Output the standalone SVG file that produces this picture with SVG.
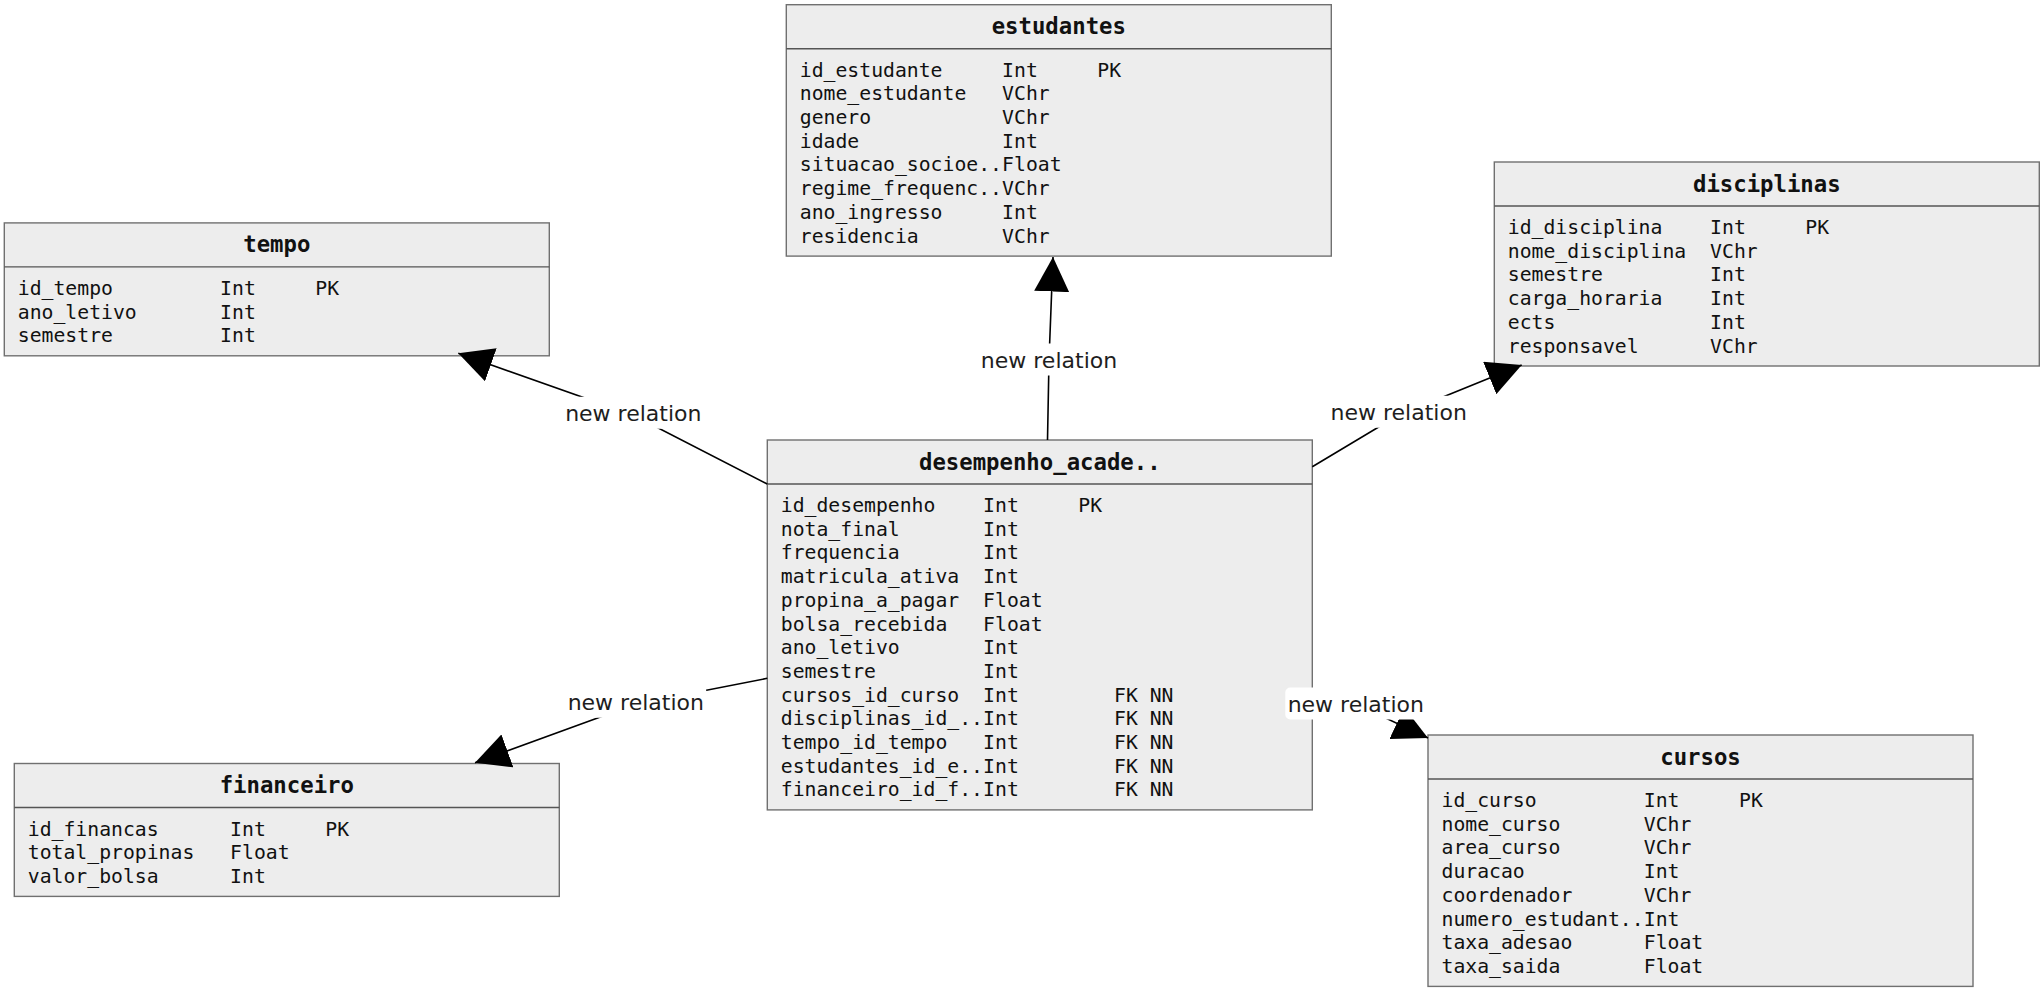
<svg xmlns="http://www.w3.org/2000/svg" width="2043" height="990" viewBox="0 0 2043 990">
  <style>
    .box { fill: #ededed; stroke: #707070; stroke-width: 1.4; }
    .sep { stroke: #555555; stroke-width: 1.4; }
    .title { font-family: "DejaVu Sans Mono", "Liberation Mono", monospace; font-weight: bold; font-size: 22.3px; fill: #111111; text-anchor: middle; }
    .row { font-family: "DejaVu Sans Mono", "Liberation Mono", monospace; font-size: 19.75px; fill: #111111; }
    .edge { fill: none; stroke: #000000; stroke-width: 1.6; marker-end: url(#head); }
    .lblbg { fill: #ffffff; }
    .lbl { font-family: "DejaVu Sans", "Liberation Sans", sans-serif; font-size: 22px; fill: #1e1e1e; text-anchor: middle; }
  </style>
  <defs>
    <marker id="head" markerUnits="userSpaceOnUse" viewBox="0 0 35 35" markerWidth="35" markerHeight="35" refX="34.5" refY="17.5" orient="auto">
      <path d="M0,0 L34.5,17.5 L0,35 z" fill="#000000"/>
    </marker>
  </defs>
  <rect width="2043" height="990" fill="#ffffff"/>

  <!-- estudantes -->
  <g id="tbl-estudantes" transform="translate(786.3,4.7)">
    <rect class="box" width="545" height="251.4"/>
    <line class="sep" x1="0" y1="44" x2="545" y2="44"/>
    <text class="title" x="272.5" y="29.5">estudantes</text>
    <text class="row" y="72"><tspan x="13.5">id_estudante</tspan><tspan x="215.8">Int</tspan><tspan x="311">PK</tspan></text>
    <text class="row" y="95.7"><tspan x="13.5">nome_estudante</tspan><tspan x="215.8">VChr</tspan></text>
    <text class="row" y="119.4"><tspan x="13.5">genero</tspan><tspan x="215.8">VChr</tspan></text>
    <text class="row" y="143.1"><tspan x="13.5">idade</tspan><tspan x="215.8">Int</tspan></text>
    <text class="row" y="166.8"><tspan x="13.5">situacao_socioe..</tspan><tspan x="215.8">Float</tspan></text>
    <text class="row" y="190.5"><tspan x="13.5">regime_frequenc..</tspan><tspan x="215.8">VChr</tspan></text>
    <text class="row" y="214.2"><tspan x="13.5">ano_ingresso</tspan><tspan x="215.8">Int</tspan></text>
    <text class="row" y="237.9"><tspan x="13.5">residencia</tspan><tspan x="215.8">VChr</tspan></text>
  </g>

  <!-- tempo -->
  <g id="tbl-tempo" transform="translate(4.3,222.9)">
    <rect class="box" width="545" height="132.9"/>
    <line class="sep" x1="0" y1="44" x2="545" y2="44"/>
    <text class="title" x="272.5" y="29.5">tempo</text>
    <text class="row" y="72"><tspan x="13.5">id_tempo</tspan><tspan x="215.8">Int</tspan><tspan x="311">PK</tspan></text>
    <text class="row" y="95.7"><tspan x="13.5">ano_letivo</tspan><tspan x="215.8">Int</tspan></text>
    <text class="row" y="119.4"><tspan x="13.5">semestre</tspan><tspan x="215.8">Int</tspan></text>
  </g>

  <!-- disciplinas -->
  <g id="tbl-disciplinas" transform="translate(1494.3,162)">
    <rect class="box" width="545" height="204"/>
    <line class="sep" x1="0" y1="44" x2="545" y2="44"/>
    <text class="title" x="272.5" y="29.5">disciplinas</text>
    <text class="row" y="72"><tspan x="13.5">id_disciplina</tspan><tspan x="215.8">Int</tspan><tspan x="311">PK</tspan></text>
    <text class="row" y="95.7"><tspan x="13.5">nome_disciplina</tspan><tspan x="215.8">VChr</tspan></text>
    <text class="row" y="119.4"><tspan x="13.5">semestre</tspan><tspan x="215.8">Int</tspan></text>
    <text class="row" y="143.1"><tspan x="13.5">carga_horaria</tspan><tspan x="215.8">Int</tspan></text>
    <text class="row" y="166.8"><tspan x="13.5">ects</tspan><tspan x="215.8">Int</tspan></text>
    <text class="row" y="190.5"><tspan x="13.5">responsavel</tspan><tspan x="215.8">VChr</tspan></text>
  </g>

  <!-- desempenho_academico (fact table) -->
  <g id="tbl-desempenho" transform="translate(767.3,440)">
    <rect class="box" width="545" height="369.9"/>
    <line class="sep" x1="0" y1="44" x2="545" y2="44"/>
    <text class="title" x="272.5" y="29.5">desempenho_acade..</text>
    <text class="row" y="72"><tspan x="13.5">id_desempenho</tspan><tspan x="215.8">Int</tspan><tspan x="311">PK</tspan></text>
    <text class="row" y="95.7"><tspan x="13.5">nota_final</tspan><tspan x="215.8">Int</tspan></text>
    <text class="row" y="119.4"><tspan x="13.5">frequencia</tspan><tspan x="215.8">Int</tspan></text>
    <text class="row" y="143.1"><tspan x="13.5">matricula_ativa</tspan><tspan x="215.8">Int</tspan></text>
    <text class="row" y="166.8"><tspan x="13.5">propina_a_pagar</tspan><tspan x="215.8">Float</tspan></text>
    <text class="row" y="190.5"><tspan x="13.5">bolsa_recebida</tspan><tspan x="215.8">Float</tspan></text>
    <text class="row" y="214.2"><tspan x="13.5">ano_letivo</tspan><tspan x="215.8">Int</tspan></text>
    <text class="row" y="237.9"><tspan x="13.5">semestre</tspan><tspan x="215.8">Int</tspan></text>
    <text class="row" y="261.6"><tspan x="13.5">cursos_id_curso</tspan><tspan x="215.8">Int</tspan><tspan x="346.7">FK NN</tspan></text>
    <text class="row" y="285.3"><tspan x="13.5">disciplinas_id_..</tspan><tspan x="215.8">Int</tspan><tspan x="346.7">FK NN</tspan></text>
    <text class="row" y="309"><tspan x="13.5">tempo_id_tempo</tspan><tspan x="215.8">Int</tspan><tspan x="346.7">FK NN</tspan></text>
    <text class="row" y="332.7"><tspan x="13.5">estudantes_id_e..</tspan><tspan x="215.8">Int</tspan><tspan x="346.7">FK NN</tspan></text>
    <text class="row" y="356.4"><tspan x="13.5">financeiro_id_f..</tspan><tspan x="215.8">Int</tspan><tspan x="346.7">FK NN</tspan></text>
  </g>

  <!-- financeiro -->
  <g id="tbl-financeiro" transform="translate(14.3,763.5)">
    <rect class="box" width="545" height="132.9"/>
    <line class="sep" x1="0" y1="44" x2="545" y2="44"/>
    <text class="title" x="272.5" y="29.5">financeiro</text>
    <text class="row" y="72"><tspan x="13.5">id_financas</tspan><tspan x="215.8">Int</tspan><tspan x="311">PK</tspan></text>
    <text class="row" y="95.7"><tspan x="13.5">total_propinas</tspan><tspan x="215.8">Float</tspan></text>
    <text class="row" y="119.4"><tspan x="13.5">valor_bolsa</tspan><tspan x="215.8">Int</tspan></text>
  </g>

  <!-- cursos -->
  <g id="tbl-cursos" transform="translate(1428,735)">
    <rect class="box" width="545" height="251.4"/>
    <line class="sep" x1="0" y1="44" x2="545" y2="44"/>
    <text class="title" x="272.5" y="29.5">cursos</text>
    <text class="row" y="72"><tspan x="13.5">id_curso</tspan><tspan x="215.8">Int</tspan><tspan x="311">PK</tspan></text>
    <text class="row" y="95.7"><tspan x="13.5">nome_curso</tspan><tspan x="215.8">VChr</tspan></text>
    <text class="row" y="119.4"><tspan x="13.5">area_curso</tspan><tspan x="215.8">VChr</tspan></text>
    <text class="row" y="143.1"><tspan x="13.5">duracao</tspan><tspan x="215.8">Int</tspan></text>
    <text class="row" y="166.8"><tspan x="13.5">coordenador</tspan><tspan x="215.8">VChr</tspan></text>
    <text class="row" y="190.5"><tspan x="13.5">numero_estudant..</tspan><tspan x="215.8">Int</tspan></text>
    <text class="row" y="214.2"><tspan x="13.5">taxa_adesao</tspan><tspan x="215.8">Float</tspan></text>
    <text class="row" y="237.9"><tspan x="13.5">taxa_saida</tspan><tspan x="215.8">Float</tspan></text>
  </g>

  <!-- relations from the fact table to each dimension -->
  <g id="connectors">
    <polyline class="edge" points="1047.5,440 1049,360 1053,257"/>
    <polyline class="edge" points="767.3,484 633,415 458.3,353.3"/>
    <polyline class="edge" points="1312.3,466.7 1398.7,415 1521.7,365"/>
    <polyline class="edge" points="767.3,678.3 636,704 475,762.7"/>
    <polyline class="edge" points="1312.3,704 1356,704 1428,738"/>

    <rect class="lblbg" x="978.5" y="343.6" width="141" height="32" rx="5"/>
    <text class="lbl" x="1049" y="368">new relation</text>
    <rect class="lblbg" x="562.8" y="396.7" width="141" height="32" rx="5"/>
    <text class="lbl" x="633.3" y="421">new relation</text>
    <rect class="lblbg" x="1328.2" y="395.7" width="141" height="32" rx="5"/>
    <text class="lbl" x="1398.7" y="420">new relation</text>
    <rect class="lblbg" x="565.3" y="685.7" width="141" height="32" rx="5"/>
    <text class="lbl" x="635.8" y="710">new relation</text>
    <rect class="lblbg" x="1285.3" y="687.5" width="141" height="32" rx="5"/>
    <text class="lbl" x="1355.8" y="711.6">new relation</text>
  </g>
</svg>
